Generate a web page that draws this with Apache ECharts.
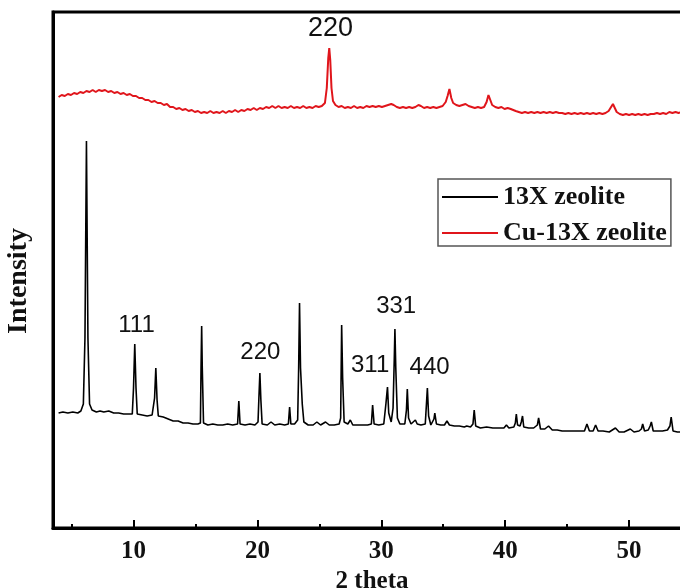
<!DOCTYPE html>
<html>
<head>
<meta charset="utf-8">
<script src="https://cdn.jsdelivr.net/npm/echarts@6/dist/echarts.min.js"></script>
<style>html,body{margin:0;padding:0;background:#fff}#c{width:680px;height:588px}</style>
</head>
<body>
<div id="c"></div>
<script>
// 2-theta (deg) vs intensity (a.u.)
const seriesNames = ['13X zeolite', 'Cu-13X zeolite'];
const majorTicks = [10, 20, 30, 40, 50];
const minorTicks = [5, 15, 25, 35, 45, 55];

const zeolite13X = [
[3.95,115],[4.3,116],[4.7,115],[5.1,116],[5.5,115],[5.75,117],[5.95,124],[6.08,190],[6.2,387],[6.32,190],[6.45,124],[6.65,118],[7.0,116],[7.3,117],[7.6,116],[8.0,117],[8.4,115],[8.8,115],[9.2,114],[9.6,114],[9.9,114],[10.0,140],[10.1,184],[10.2,140],[10.3,114],[10.7,113],[11.1,112],[11.5,113],[11.7,130],[11.8,160],[11.9,128],[12.0,112],[12.4,111],[12.8,109],[13.2,107],[13.6,107],[14.0,105],[14.4,105],[14.8,104],[15.2,104],[15.4,105],[15.45,160],[15.5,202],[15.55,160],[15.65,105],[16.0,103],[16.4,104],[16.8,103],[17.2,103],[17.6,104],[18.0,103],[18.4,104],[18.5,127],[18.6,104],[19.0,103],[19.4,104],[19.8,103],[20.05,106],[20.12,130],[20.2,155],[20.28,128],[20.38,104],[20.8,103],[21.1,106],[21.4,103],[21.8,104],[22.2,103],[22.5,104],[22.6,121],[22.7,104],[23.0,104],[23.25,108],[23.33,160],[23.4,225],[23.48,160],[23.62,124],[23.75,106],[24.1,103],[24.5,103],[24.8,106],[25.1,103],[25.5,106],[25.8,103],[26.2,103],[26.6,104],[26.72,110],[26.8,203],[26.88,150],[27.0,106],[27.3,104],[27.5,108],[27.7,103],[28.1,103],[28.5,103],[28.9,103],[29.2,104],[29.3,123],[29.42,104],[29.8,103],[30.2,104],[30.38,125],[30.5,141],[30.6,115],[30.8,106],[30.95,120],[31.05,170],[31.1,199],[31.17,160],[31.3,110],[31.5,104],[31.9,104],[32.03,118],[32.1,139],[32.2,110],[32.4,104],[32.75,108],[32.9,104],[33.2,103],[33.55,104],[33.65,125],[33.72,140],[33.82,112],[34.0,103],[34.25,109],[34.32,115],[34.45,104],[34.8,103],[35.1,103],[35.3,107],[35.5,103],[35.9,102],[36.3,102],[36.7,101],[36.9,102],[37.2,101],[37.4,104],[37.5,118],[37.62,102],[38.0,100],[38.5,101],[39.0,100],[39.5,100],[39.9,100],[40.1,103],[40.3,100],[40.7,101],[40.82,105],[40.9,114],[41.0,103],[41.2,102],[41.3,106],[41.4,112],[41.5,101],[41.9,100],[42.3,100],[42.6,103],[42.7,110],[42.85,99],[43.2,99],[43.5,102],[43.8,98],[44.2,98],[44.6,97],[45.0,97],[45.5,97],[46.0,97],[46.4,97],[46.6,104],[46.8,97],[47.1,97],[47.3,103],[47.5,97],[47.9,97],[48.4,96],[48.9,100],[49.2,96],[49.6,96],[50.1,99],[50.4,96],[50.8,97],[51.0,99],[51.1,104],[51.25,97],[51.55,98],[51.7,102],[51.8,106],[51.95,97],[52.3,97],[52.7,97],[53.1,98],[53.3,102],[53.4,111],[53.55,97],[53.9,96],[54.2,96],[54.6,97],[55.0,96]
];

const cu13X = [
[3.95,431],[4.2,433],[4.45,432],[4.7,434],[4.95,433],[5.2,435],[5.45,434],[5.7,436],[5.95,435],[6.2,437],[6.45,436],[6.7,438],[6.95,436],[7.2,438],[7.45,437],[7.7,438],[7.95,436],[8.2,437],[8.45,435],[8.7,436],[8.95,434],[9.2,435],[9.45,433],[9.7,434],[9.95,432],[10.2,432],[10.45,430],[10.7,430],[10.95,428],[11.2,428],[11.45,426],[11.7,427],[11.95,425],[12.2,425],[12.45,423],[12.7,424],[12.95,421],[13.2,421],[13.45,419],[13.7,420],[13.95,418],[14.2,419],[14.45,417],[14.7,418],[14.95,416],[15.2,417],[15.45,415],[15.7,416],[15.95,415],[16.2,417],[16.45,415],[16.7,416],[16.95,415],[17.2,417],[17.45,415],[17.7,417],[17.95,416],[18.2,418],[18.45,416],[18.7,418],[18.95,417],[19.2,419],[19.45,418],[19.7,420],[19.95,418],[20.2,420],[20.45,419],[20.7,421],[20.95,420],[21.2,422],[21.45,420],[21.7,422],[21.95,420],[22.2,421],[22.45,420],[22.7,422],[22.95,420],[23.2,421],[23.45,420],[23.7,422],[23.95,420],[24.2,421],[24.45,420],[24.7,422],[24.95,421],[25.2,422],[25.45,425],[25.6,440],[25.72,470],[25.8,480],[25.88,468],[25.98,440],[26.1,427],[26.3,423],[26.55,421],[26.8,422],[27.05,420],[27.3,421],[27.55,420],[27.8,422],[28.05,420],[28.3,421],[28.55,420],[28.8,422],[29.05,421],[29.3,422],[29.55,421],[29.8,422],[30.05,421],[30.3,422],[30.55,423],[30.8,424],[31.0,423],[31.25,421],[31.5,420],[31.75,421],[32.0,420],[32.25,421],[32.5,420],[32.75,421],[33.0,423],[33.2,422],[33.45,420],[33.7,421],[33.95,420],[34.2,421],[34.45,420],[34.7,421],[34.95,422],[35.2,426],[35.35,432],[35.5,439],[35.65,430],[35.8,425],[36.05,423],[36.3,422],[36.55,423],[36.8,424],[37.05,422],[37.3,421],[37.55,420],[37.8,421],[38.05,420],[38.3,421],[38.5,426],[38.65,433],[38.8,428],[38.95,423],[39.2,421],[39.45,420],[39.7,421],[39.95,419],[40.2,420],[40.45,419],[40.6,420],[40.85,417],[41.1,416],[41.35,415],[41.6,416],[41.85,415],[42.1,416],[42.35,415],[42.6,416],[42.85,415],[43.1,416],[43.35,415],[43.6,416],[43.85,415],[44.1,416],[44.35,415],[44.6,415],[44.85,414],[45.1,415],[45.35,414],[45.6,415],[45.85,414],[46.1,415],[46.35,414],[46.6,415],[46.85,414],[47.1,415],[47.35,414],[47.6,415],[47.85,414],[48.1,415],[48.35,417],[48.55,421],[48.7,424],[48.85,420],[49.0,416],[49.25,414],[49.5,413],[49.75,414],[50.0,413],[50.25,414],[50.5,413],[50.75,414],[51.0,413],[51.25,414],[51.5,413],[51.75,414],[52.0,414],[52.25,415],[52.5,414],[52.75,415],[53.0,414],[53.25,416],[53.5,415],[53.75,416],[54.0,415],[54.25,416],[54.5,415],[54.75,416],[55.0,416]
];

// peak labels: [label, 2theta, intensity]
const peakLabels13X = [['111',10.24,203],['220',20.24,176],['311',29.1,163],['331',31.2,222],['440',33.9,161]];
const peakLabelsCu = [['220',25.9,499]];

const serif = "'Liberation Serif','Times New Roman',serif";
const sans = "'Liberation Sans',Arial,sans-serif";

function mp(list, size) {
  return {
    symbol: 'rect', symbolSize: 0, silent: true,
    label: {show: true, position: 'inside', formatter: '{b}', color: '#111', fontFamily: sans, fontSize: size},
    data: list.map(d => ({name: d[0], coord: [d[1], d[2]]}))
  };
}

const xBase = () => ({type: 'value', min: 3.5, max: 55, position: 'bottom', gridIndex: 0, splitLine: {show: false}});

const chart = echarts.init(document.getElementById('c'), null, {renderer: 'canvas'});
chart.setOption({
  animation: false,
  backgroundColor: '#fff',
  grid: {left: 53, top: 12, width: 638, height: 516, outerBoundsMode: 'none', containLabel: false,
         show: true, borderColor: '#000', borderWidth: 3, backgroundColor: 'transparent'},
  legend: {
    orient: 'vertical', left: 438, top: 179,
    data: seriesNames, icon: 'rect', itemWidth: 56, itemHeight: 2, itemGap: 10,
    padding: [5, 4, 0, 4],
    borderColor: '#555', borderWidth: 1.5, backgroundColor: '#fff',
    textStyle: {fontFamily: serif, fontWeight: 'bold', fontSize: 26, color: '#111'}
  },
  xAxis: [Object.assign(xBase(), {
    name: '2 theta', nameLocation: 'middle', nameGap: 38,
    nameTextStyle: {fontFamily: serif, fontWeight: 'bold', fontSize: 25, color: '#111'},
    axisLine: {show: true, onZero: false, lineStyle: {color: '#000', width: 3}},
    axisTick: {show: true, inside: true, length: 8, lineStyle: {width: 2, color: '#000'}},
    axisLabel: {show: true, margin: 11, fontFamily: serif, fontWeight: 'bold', fontSize: 25, color: '#111', customValues: majorTicks.slice()}
  }), Object.assign(xBase(), {
    axisLine: {show: false},
    axisTick: {show: true, inside: true, length: 4, lineStyle: {width: 2, color: '#000'}, customValues: minorTicks.slice()},
    axisLabel: {show: false}
  })],
  yAxis: {
    type: 'value', min: 0, max: 516,
    name: 'Intensity', nameLocation: 'middle', nameGap: 20,
    nameTextStyle: {fontFamily: serif, fontWeight: 'bold', fontSize: 28, color: '#111', padding: [0, 22, 0, 0]},
    axisLine: {show: true, onZero: false, lineStyle: {color: '#000', width: 3}},
    axisTick: {show: false}, axisLabel: {show: false}, splitLine: {show: false}
  },
  series: [{
    name: seriesNames[0], type: 'line', data: zeolite13X, showSymbol: false, symbol: 'none',
    lineStyle: {color: '#000', width: 1.6}, itemStyle: {color: '#000'},
    markPoint: mp(peakLabels13X, 24), z: 3
  }, {
    name: seriesNames[1], type: 'line', data: cu13X, showSymbol: false, symbol: 'none',
    lineStyle: {color: '#e0151b', width: 2}, itemStyle: {color: '#e0151b'},
    markPoint: mp(peakLabelsCu, 27), z: 2
  }]
});
</script>
</body>
</html>
